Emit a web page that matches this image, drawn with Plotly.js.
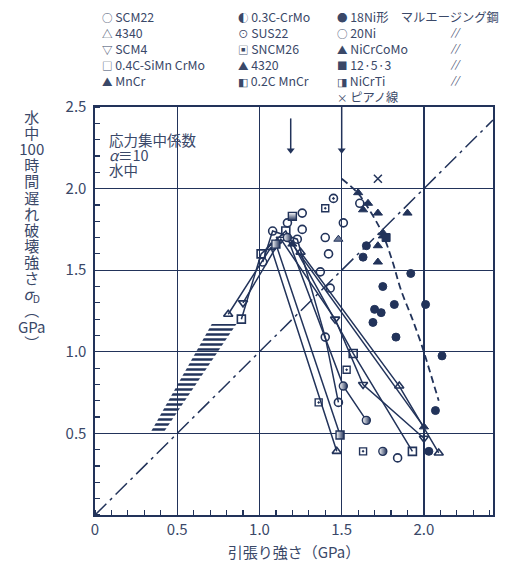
<!DOCTYPE html>
<html><head><meta charset="utf-8">
<script src="https://cdn.plot.ly/plotly-3.0.1.min.js"></script>
<style>html,body{margin:0;padding:0;background:#fff;}#chart{width:522px;height:572px;}</style>
</head><body><div id="chart"></div>
<script>
// ---- axis ticks ----
const xTickVals = [0, 0.5, 1.0, 1.5, 2.0];
const xTickText = ['0', '0.5', '1.0', '1.5', '2.0'];
const yTickVals = [0.5, 1.0, 1.5, 2.0, 2.5];
const yTickText = ['0.5', '1.0', '1.5', '2.0', '2.5'];

// ---- legend labels (3 columns) ----
const legendCol1 = ['SCM22', '4340', 'SCM4', '0.4C-SiMn CrMo', 'MnCr'];
const legendSym1 = ['○', '△', '▽', '□', '▲'];
const legendCol2 = ['0.3C-CrMo', 'SUS22', 'SNCM26', '4320', '0.2C MnCr'];
const legendSym2 = ['◐', '⊙', '▣', '▲', '◧'];
const legendCol3 = ['18Ni形　マルエージング鋼', '20Ni', 'NiCrCoMo', '12·5·3', 'NiCrTi', 'ピアノ線'];
const legendSym3 = ['●', '○', '▲', '■', '◨', '×'];
const dittoRows = [1, 2, 3, 4];   // rows of column 3 carrying "//"

// ---- connected series (tensile strength GPa, delayed fracture strength GPa) ----
const l4340aX = [0.81, 1.07, 1.47];       const l4340aY = [1.23, 1.64, 0.39];
const l4340bX = [1.25, 1.85, 2.09];       const l4340bY = [1.61, 0.79, 0.38];
const lScm4X  = [0.90, 1.13, 1.46, 1.63, 2.00]; const lScm4Y = [1.30, 1.69, 1.20, 0.80, 0.47];
const lSiMnX  = [0.89, 1.01, 1.16, 1.57, 1.93]; const lSiMnY = [1.20, 1.60, 1.74, 0.99, 0.39];
const lScm22X = [1.02, 1.08, 1.23, 1.40, 1.48]; const lScm22Y = [1.55, 1.74, 1.69, 1.09, 0.69];
const lCrMoX  = [1.17, 1.51, 1.65];       const lCrMoY  = [1.70, 0.79, 0.58];
const l02MnX  = [1.10, 1.49];             const l02MnY  = [1.66, 0.49];
const lMnCrX  = [1.20, 2.00];             const lMnCrY  = [1.66, 0.54];

// ---- scattered points ----
const scm22X = [1.17, 1.26, 1.26, 1.51, 1.40, 1.42, 1.37, 1.43];
const scm22Y = [1.79, 1.75, 1.85, 1.79, 1.70, 1.60, 1.49, 1.39];
const sus22X = [1.45]; const sus22Y = [1.94];
const sncmX = [1.40, 1.53, 1.36, 1.63]; const sncmY = [1.88, 0.89, 0.69, 0.39];
const x4320X = [1.48]; const x4320Y = [1.69];
const crMoX = [1.75]; const crMoY = [0.39];
const ni18X = [1.65, 1.63, 1.92, 1.75, 1.82, 2.01, 1.70, 1.74, 1.69, 1.83, 2.11, 2.07, 2.03];
const ni18Y = [1.65, 1.58, 1.48, 1.40, 1.29, 1.29, 1.26, 1.24, 1.18, 1.09, 0.975, 0.64, 0.39];
const ni20X = [1.61, 1.84]; const ni20Y = [1.91, 0.35];
const ncmX = [1.60, 1.66, 1.63, 1.72, 1.90, 1.75, 1.75, 1.72, 1.72];
const ncmY = [1.975, 1.91, 1.87, 1.85, 1.85, 1.71, 1.73, 1.65, 1.55];
const m1253X = [1.77]; const m1253Y = [1.70];
const niCrTiX = [1.20]; const niCrTiY = [1.83];
const pianoX = [1.72]; const pianoY = [2.06];

// ---- reference lines / regions ----
const diagX = [0, 2.42]; const diagY = [0, 2.42];
const curveX = [1.50, 1.60, 1.68, 1.75, 1.81, 1.86, 1.93, 1.99, 2.03, 2.09];
const curveY = [2.06, 1.97, 1.85, 1.72, 1.55, 1.38, 1.20, 1.03, 0.90, 0.70];
const bandX = [0.334, 0.413, 0.86, 0.71, 0.334];
const bandY = [0.50, 0.50, 1.17, 1.17, 0.50];
const arrow1X = [1.19, 1.19]; const arrow1Y = [2.43, 2.235];
const arrow2X = [1.50, 1.50]; const arrow2Y = [2.50, 2.235];

const ink = '#22335a';
const txt = '#3a4868';
const FONT = '"Noto Sans CJK JP", "Noto Sans", sans-serif';

function openM(sym){ return {symbol: sym, size: 8, color: ink, line: {color: ink, width: 1.6}}; }
function fillM(sym){ return {symbol: sym, size: 8, color: ink, line: {color: ink, width: 1}}; }
function halfM(sym, dir){ return {symbol: sym, size: 8, color: 'white', gradient: {type: dir || 'horizontal', color: ink}, line: {color: ink, width: 1.4}}; }

function lineOnly(x, y){
  return {x, y, type: 'scatter', mode: 'lines', line: {color: ink, width: 1.5}, showlegend: false, hoverinfo: 'skip'};
}
function pts(x, y, marker){
  return {x, y, type: 'scatter', mode: 'markers', marker, showlegend: false, hoverinfo: 'skip'};
}

const mSCM22 = openM('circle-open'), m4340 = openM('triangle-up-open'), mSCM4 = openM('triangle-down-open'),
      mSiMn = openM('square-open'), mMnCr = fillM('triangle-up'), mCrMo = halfM('circle'),
      mSUS = openM('circle-open-dot'), mSNCM = {symbol: 'square-open-dot', size: 7, color: ink, line: {color: ink, width: 1.4}},
      m4320 = {symbol: 'triangle-up', size: 8, color: '#6b7896', line: {color: ink, width: 1}},
      m02Mn = halfM('square'), m18 = fillM('circle'), m20 = openM('circle-open'),
      mNCM = fillM('triangle-up'), m1253 = fillM('square'), mNiCrTi = halfM('square', 'vertical'),
      mPiano = {symbol: 'x-thin-open', size: 8, color: ink, line: {color: ink, width: 1.5}};

const data = [
  {x: bandX, y: bandY, type: 'scatter', mode: 'lines', fill: 'toself', line: {width: 0, color: 'rgba(0,0,0,0)'},
   fillcolor: 'rgba(0,0,0,0)', fillpattern: {shape: '-', size: 5, solidity: 0.5, fgcolor: ink, bgcolor: 'rgba(0,0,0,0)'},
   showlegend: false, hoverinfo: 'skip'},
  {x: diagX, y: diagY, type: 'scatter', mode: 'lines', line: {color: ink, width: 1.5, dash: '16px,5px,3px,5px'}, showlegend: false, hoverinfo: 'skip'},
  {x: curveX, y: curveY, type: 'scatter', mode: 'lines', line: {color: ink, width: 1.8, dash: '7px,4px', shape: 'spline'}, showlegend: false, hoverinfo: 'skip'},
  {x: arrow1X, y: arrow1Y, type: 'scatter', mode: 'lines', line: {color: ink, width: 1.5}, showlegend: false, hoverinfo: 'skip'},
  {x: arrow2X, y: arrow2Y, type: 'scatter', mode: 'lines', line: {color: ink, width: 1.5}, showlegend: false, hoverinfo: 'skip'},
  pts([arrow1X[1], arrow2X[1]], [arrow1Y[1], arrow2Y[1]], {symbol: 'triangle-down', size: 7, color: ink}),
  lineOnly(l4340aX, l4340aY), lineOnly(l4340bX, l4340bY), lineOnly(lScm4X, lScm4Y), lineOnly(lSiMnX, lSiMnY),
  lineOnly(lScm22X, lScm22Y), lineOnly(lCrMoX, lCrMoY), lineOnly(l02MnX, l02MnY), lineOnly(lMnCrX, lMnCrY),
  pts(l4340aX.concat(l4340bX), l4340aY.concat(l4340bY), m4340),
  pts(lScm4X, lScm4Y, mSCM4),
  pts(lSiMnX, lSiMnY, mSiMn),
  pts(lScm22X.concat(scm22X), lScm22Y.concat(scm22Y), mSCM22),
  pts(lCrMoX.concat(crMoX), lCrMoY.concat(crMoY), mCrMo),
  pts(l02MnX, l02MnY, m02Mn),
  pts(lMnCrX, lMnCrY, mMnCr),
  pts(sus22X, sus22Y, mSUS),
  pts(sncmX, sncmY, mSNCM),
  pts(x4320X, x4320Y, m4320),
  pts(ni18X, ni18Y, m18),
  pts(ni20X, ni20Y, m20),
  pts(ncmX, ncmY, mNCM),
  pts(m1253X, m1253Y, m1253),
  pts(niCrTiX, niCrTiY, mNiCrTi),
  pts(pianoX, pianoY, mPiano)
];

function legendText(syms, names){
  return names.map((n, i) => '<span style="font-size:10.5px">' + syms[i] + '</span> ' + n).join('<br>');
}

const ytitleChars = ['水', '中', '100', '時', '間', '遅', 'れ', '破', '壊', '強', 'さ', '<i>σ</i><sub>D</sub>', '︵', 'GPa', '︶'];
const ytitleText = ytitleChars.map(c => '<span style="font-size:15px">' + c + '</span>').join('<br>');

const noteLines = ['応力集中係数', '<i>α</i>≡10', '水中'];
const noteText = noteLines.map(c => '<span style="font-size:14.5px">' + c + '</span>').join('<br>');

const legTop = 1.247;
const rowStep = 16 / 408;
const legFont = {family: FONT, size: 12.3, color: txt};

const annotations = [
  {xref: 'paper', yref: 'paper', x: -0.158, y: 0.70, xanchor: 'center', yanchor: 'middle', showarrow: false,
   text: ytitleText, font: {family: FONT, size: 12.4, color: txt}},
  {xref: 'paper', yref: 'paper', x: 0.03, y: 0.95, xanchor: 'left', yanchor: 'top', align: 'left', showarrow: false,
   text: noteText, font: {family: FONT, size: 11.6, color: txt}},
  {xref: 'paper', yref: 'paper', x: 0.012, y: legTop, xanchor: 'left', yanchor: 'top', align: 'left', showarrow: false,
   text: legendText(legendSym1, legendCol1), font: legFont},
  {xref: 'paper', yref: 'paper', x: 0.355, y: legTop, xanchor: 'left', yanchor: 'top', align: 'left', showarrow: false,
   text: legendText(legendSym2, legendCol2), font: legFont},
  {xref: 'paper', yref: 'paper', x: 0.602, y: legTop, xanchor: 'left', yanchor: 'top', align: 'left', showarrow: false,
   text: legendText(legendSym3, legendCol3), font: legFont}
].concat(dittoRows.map(r => ({xref: 'paper', yref: 'paper', x: 0.905, y: legTop - 0.0235 - r * rowStep, xanchor: 'center', yanchor: 'middle',
   showarrow: false, text: '<i>//</i>', font: {family: FONT, size: 10, color: txt}})));

const layout = {
  width: 522, height: 572,
  margin: {l: 95, r: 29, t: 107, b: 57, autoexpand: false},
  paper_bgcolor: '#fff', plot_bgcolor: '#fff',
  font: {family: FONT, color: txt},
  showlegend: false,
  xaxis: {
    range: [0, 2.42], tickvals: xTickVals, ticktext: xTickText, ticks: '', showgrid: true,
    gridcolor: ink, gridwidth: 1.3, zeroline: false, showline: true, mirror: true, linecolor: ink, linewidth: 1.6,
    tickfont: {family: FONT, size: 15, color: txt},
    minor: {dtick: 0.1, ticks: 'inside', ticklen: 5, tickwidth: 1.2, tickcolor: ink, showgrid: false},
    title: {text: '引張り強さ（GPa）', font: {family: FONT, size: 15, color: txt}, standoff: 10}
  },
  yaxis: {
    range: [0, 2.5], tickvals: yTickVals, ticktext: yTickText, ticks: '', showgrid: true,
    gridcolor: ink, gridwidth: 1.3, zeroline: false, showline: true, mirror: true, linecolor: ink, linewidth: 1.6,
    tickfont: {family: FONT, size: 15, color: txt}, ticklabelstandoff: 4,
    minor: {dtick: 0.1, ticks: 'inside', ticklen: 5, tickwidth: 1.2, tickcolor: ink, showgrid: false}
  },
  annotations
};

Plotly.newPlot('chart', data, layout, {staticPlot: true, displayModeBar: false});
</script></body></html>
